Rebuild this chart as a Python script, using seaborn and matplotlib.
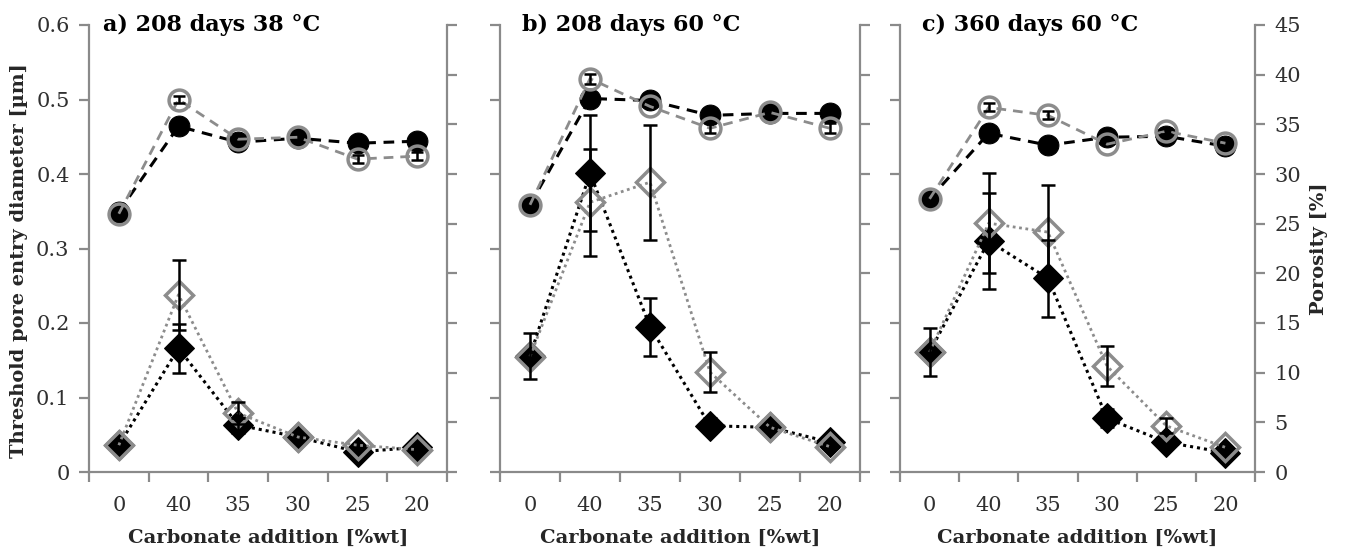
import numpy as np
import pandas as pd
import matplotlib
matplotlib.use("Agg")
import matplotlib.pyplot as plt
import seaborn as sns

# ---------------- data ----------------
categories = ["0", "40", "35", "30", "25", "20"]
panel_titles = ["a) 208 days 38 °C", "b) 208 days 60 °C", "c) 360 days 60 °C"]

# threshold pore entry diameter [µm] (left axis, diamonds)
diam_black = [[0.036, 0.166, 0.063, 0.047, 0.027, 0.033],
              [0.156, 0.401, 0.195, 0.062, 0.060, 0.040],
              [0.161, 0.310, 0.260, 0.072, 0.040, 0.026]]
diam_black_err = [[0, 0.033, 0.010, 0, 0, 0],
                  [0.031, 0.078, 0.039, 0.010, 0, 0],
                  [0.032, 0.065, 0.052, 0.012, 0, 0]]
diam_gray = [[0.036, 0.238, 0.079, 0.047, 0.036, 0.030],
             [0.155, 0.362, 0.389, 0.134, 0.060, 0.034],
             [0.161, 0.334, 0.322, 0.142, 0.062, 0.033]]
diam_gray_err = [[0, 0.047, 0.015, 0, 0, 0],
                 [0, 0.072, 0.077, 0.027, 0, 0],
                 [0, 0.067, 0.063, 0.027, 0.010, 0]]

# porosity [%] (right axis, circles)
por_black = [[26.2, 34.8, 33.2, 33.6, 33.1, 33.3],
             [26.9, 37.6, 37.4, 35.9, 36.1, 36.1],
             [27.5, 34.1, 32.9, 33.7, 33.8, 32.8]]
por_gray = [[26.0, 37.5, 33.5, 33.7, 31.5, 31.8],
            [26.9, 39.6, 36.8, 34.6, 36.2, 34.6],
            [27.5, 36.7, 35.9, 33.0, 34.3, 33.1]]
por_gray_err = [[0, 0.4, 0, 0, 0.4, 0.4],
                [0, 0.5, 0, 0.5, 0, 0.5],
                [0, 0.4, 0.4, 0, 0.3, 0]]

diam_ticks = [0, 0.1, 0.2, 0.3, 0.4, 0.5, 0.6]
diam_ticklabels = ["0", "0.1", "0.2", "0.3", "0.4", "0.5", "0.6"]
por_ticks = [0, 5, 10, 15, 20, 25, 30, 35, 40, 45]

# ---------------- style ----------------
sns.set_style("white")
plt.rcParams["font.family"] = ["DejaVu Serif"]

W, H = 1346, 553
fig = plt.figure(figsize=(W / 100, H / 100), dpi=100)

GRAY = "#8c8c8c"
SPINE = "#8a8a8a"
TXT = "#303030"

panel_px = [(89, 358), (500, 360), (900, 355)]
title_off = [14, 22, 22]
top_px, bot_px = 25, 472

pos = np.arange(len(categories))

for i in range(3):
    left, width = panel_px[i]
    ax = fig.add_axes([left / W, 1 - bot_px / H, width / W, (bot_px - top_px) / H])
    ax2 = ax.twinx()
    for a in (ax, ax2):
        a.set_facecolor("none")
        for s in a.spines.values():
            s.set_visible(False)
    ax.patch.set_visible(False)
    ax.spines["left"].set_visible(True)
    ax.spines["bottom"].set_visible(True)
    ax2.spines["right"].set_visible(True)
    for s in (ax.spines["left"], ax.spines["bottom"], ax2.spines["right"]):
        s.set_color(SPINE)
        s.set_linewidth(1.6)

    # diamonds (left axis)
    sns.lineplot(x=pos, y=diam_black[i], ax=ax, color="black", linestyle=(0, (1, 1.3)),
                 linewidth=2.2, marker="D", markersize=15, markerfacecolor="black",
                 markeredgecolor="black", sort=False, zorder=3)
    sns.lineplot(x=pos, y=diam_gray[i], ax=ax, color=GRAY, linestyle=(0, (1, 1.3)),
                 linewidth=2.0, marker="D", markersize=14, markerfacecolor="none",
                 markeredgecolor=GRAY, markeredgewidth=2.5, sort=False, zorder=4)
    for vals, errs in ((diam_black[i], diam_black_err[i]), (diam_gray[i], diam_gray_err[i])):
        idx = [k for k, e in enumerate(errs) if e > 0]
        if idx:
            ax.errorbar(pos[idx], [vals[k] for k in idx], yerr=[errs[k] for k in idx],
                        fmt="none", ecolor="black", elinewidth=1.8, capsize=5,
                        capthick=1.8, zorder=5)

    # circles (right axis)
    sns.lineplot(x=pos, y=por_black[i], ax=ax2, color="black", linestyle=(0, (3.5, 2.5)),
                 linewidth=2.2, marker="o", markersize=15, markerfacecolor="black",
                 markeredgecolor="black", sort=False, zorder=3)
    sns.lineplot(x=pos, y=por_gray[i], ax=ax2, color=GRAY, linestyle=(0, (3.5, 2.5)),
                 linewidth=2.0, marker="o", markersize=15, markerfacecolor="none",
                 markeredgecolor=GRAY, markeredgewidth=2.5, sort=False, zorder=4)
    idx = [k for k, e in enumerate(por_gray_err[i]) if e > 0]
    if idx:
        ax2.errorbar(pos[idx], [por_gray[i][k] for k in idx],
                     yerr=[por_gray_err[i][k] for k in idx], fmt="none",
                     ecolor="black", elinewidth=1.8, capsize=4, capthick=1.8, zorder=5)

    # axes scales / ticks
    ax.set_xlim(-0.5, len(categories) - 0.5)
    ax.set_xticks(np.arange(-0.5, len(categories), 1.0))
    ax.set_xticklabels([])
    ax.set_xticks(pos, minor=True)
    ax.set_xticklabels(categories, minor=True)
    ax.tick_params(axis="x", which="major", direction="out", length=7, width=1.6,
                   color=SPINE, bottom=True)
    ax.tick_params(axis="x", which="minor", length=0, pad=17, labelsize=15,
                   labelcolor=TXT)

    ax.set_ylim(0, 0.6)
    ax.set_yticks(diam_ticks)
    ax2.set_ylim(0, 45)
    ax2.set_yticks(por_ticks)
    ax.tick_params(axis="y", direction="out", length=7, width=1.6, color=SPINE,
                   left=True, labelsize=15, labelcolor=TXT, pad=7)
    ax2.tick_params(axis="y", direction="out", length=7, width=1.6, color=SPINE,
                    right=True, labelsize=15, labelcolor=TXT, pad=7)
    if i == 0:
        ax.set_yticklabels(diam_ticklabels)
        ax.set_ylabel("Threshold pore entry diameter [µm]", fontsize=14,
                      fontweight="bold")
        ax.yaxis.set_label_coords(-0.17, 0.474)
    else:
        ax.set_yticklabels([])
        ax.set_ylabel("")
    if i == 2:
        ax2.set_yticklabels([str(t) for t in por_ticks])
        ax2.set_ylabel("Porosity [%]", fontsize=14, fontweight="bold",
                       rotation=90, va="center")
        ax2.yaxis.set_label_coords(1.18, 0.50)
    else:
        ax2.set_yticklabels([])
        ax2.set_ylabel("")
    ax.grid(False)
    ax2.grid(False)

    ax.set_xlabel("Carbonate addition [%wt]", fontsize=14, fontweight="bold",
                  labelpad=10)
    ax.text(title_off[i] / width, 1.025, panel_titles[i], transform=ax.transAxes,
            fontsize=16, fontweight="bold", va="top", ha="left", color="black")

fig.savefig("out.png", dpi=100)
